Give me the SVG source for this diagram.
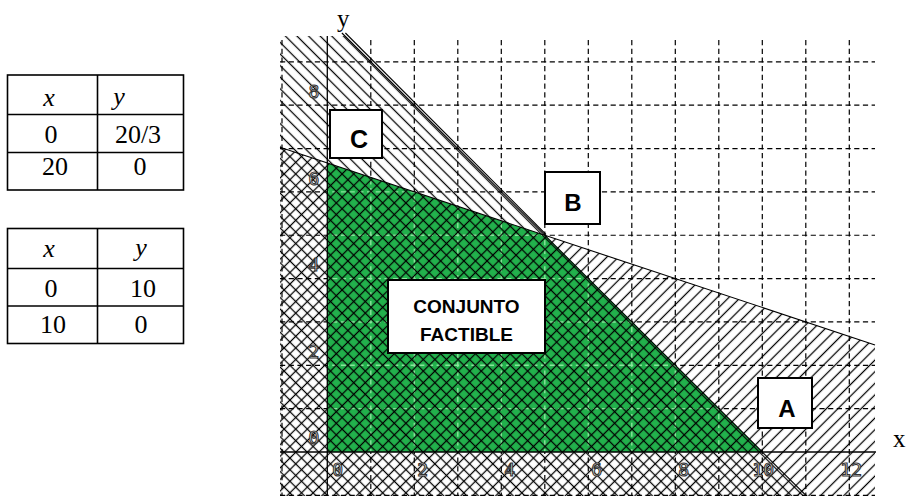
<svg xmlns="http://www.w3.org/2000/svg" width="908" height="496" viewBox="0 0 908 496">
<style>
.tb{fill:none;stroke:#000;stroke-width:1.6}
.tt{font-family:"Liberation Serif",serif;font-size:26px;fill:#000;text-anchor:middle}
.it{font-style:italic}
.grid{stroke:#000;stroke-width:1.2;stroke-dasharray:5.2 3.5;fill:none}
.ggrid{stroke:#8be39c;stroke-width:1.4;stroke-dasharray:5.2 3.5;fill:none}
.cl{stroke:#000;stroke-width:1.1;fill:none}
.ax{stroke:#000;stroke-width:1.3}
.tick{font-family:"DejaVu Sans Mono",monospace;font-size:18px;fill:#fff;stroke:#333;stroke-width:1.1}
.box{fill:#fff;stroke:#000;stroke-width:2}
.bl{font-family:"Liberation Sans",Arial,sans-serif;font-weight:bold;fill:#000;text-anchor:middle}
.axl{font-family:"Liberation Serif",serif;font-size:25px;fill:#000}
</style>
<defs>
<pattern id="hF" patternUnits="userSpaceOnUse" width="8.2" height="8.2" patternTransform="rotate(45)">
<line x1="4.1" y1="-1" x2="4.1" y2="9.2" stroke="#000" stroke-width="1.25"/>
</pattern>
<pattern id="hB" patternUnits="userSpaceOnUse" width="8.2" height="8.2" patternTransform="rotate(-45)">
<line x1="4.1" y1="-1" x2="4.1" y2="9.2" stroke="#000" stroke-width="1.25"/>
</pattern>
<clipPath id="gclip"><polygon points="327.3,452 327.3,163 544.8,235.25 762.3,452"/></clipPath>
</defs>
<rect width="908" height="496" fill="#fff"/>

<g id="table1">
<rect class="tb" x="7.5" y="75" width="176" height="115"/>
<line class="tb" x1="97.5" y1="75" x2="97.5" y2="190"/>
<line class="tb" x1="7.5" y1="114.5" x2="183.5" y2="114.5"/>
<line class="tb" x1="7.5" y1="152.5" x2="183.5" y2="152.5"/>
<text class="tt it" x="49" y="106">x</text>
<text class="tt it" x="119" y="105">y</text>
<text class="tt" x="51" y="143">0</text>
<text class="tt" x="138" y="143">20/3</text>
<text class="tt" x="55" y="175">20</text>
<text class="tt" x="140" y="175">0</text>
</g>

<g id="table2">
<rect class="tb" x="7.5" y="228.5" width="176" height="115"/>
<line class="tb" x1="97.5" y1="228.5" x2="97.5" y2="343.5"/>
<line class="tb" x1="7.5" y1="268.5" x2="183.5" y2="268.5"/>
<line class="tb" x1="7.5" y1="306" x2="183.5" y2="306"/>
<text class="tt it" x="49" y="257">x</text>
<text class="tt it" x="141" y="256">y</text>
<text class="tt" x="51" y="297">0</text>
<text class="tt" x="143" y="297">10</text>
<text class="tt" x="53" y="333">10</text>
<text class="tt" x="141" y="333">0</text>
</g>

<g id="grid">
<path class="grid" d="M282,40V496 M370.8,40V496 M414.3,40V496 M457.8,40V496 M501.3,40V496 M544.8,40V496 M588.3,40V496 M631.8,40V496 M675.3,40V496 M718.8,40V496 M762.3,40V496 M805.8,40V496 M849.3,40V496"/>
<path class="grid" d="M280,61.85H875 M280,105.2H875 M280,148.55H875 M280,191.9H875 M280,235.25H875 M280,278.6H875 M280,321.95H875 M280,365.3H875 M280,408.65H875 M280,495.35H875"/>
</g>

<g id="feasible">
<polygon points="327.3,452 327.3,163 544.8,235.25 762.3,452" fill="#22b14c"/>
<g clip-path="url(#gclip)">
<path class="ggrid" d="M370.8,40V496 M414.3,40V496 M457.8,40V496 M501.3,40V496 M544.8,40V496 M588.3,40V496 M631.8,40V496 M675.3,40V496 M718.8,40V496"/>
<path class="ggrid" d="M280,191.9H875 M280,235.25H875 M280,278.6H875 M280,321.95H875 M280,365.3H875 M280,408.65H875"/>
</g>
</g>

<g id="hatching">
<polygon points="280,36 344.9,36 806.5,496 280,496" fill="url(#hB)"/>
<polygon points="280,147.3 875,344.9 875,496 280,496" fill="url(#hF)"/>
</g>

<g id="connectors">
<line class="cl" x1="280" y1="147.3" x2="875" y2="344.9"/>
<line class="cl" x1="341.9" y1="33" x2="806.5" y2="496"/>
<line class="cl" x1="345.4" y1="33" x2="546" y2="234.5"/>
</g>

<g id="axes">
<line class="ax" x1="327.3" y1="36" x2="327.3" y2="496"/>
<line class="ax" x1="280" y1="452" x2="876" y2="452"/>
<text class="axl" x="337" y="27">y</text>
<text class="axl" x="893" y="447">x</text>
</g>

<g id="ticks" class="tick">
<text x="314" y="444" text-anchor="middle">0</text>
<text x="314" y="358" text-anchor="middle">2</text>
<text x="314" y="271" text-anchor="middle">4</text>
<text x="314" y="185" text-anchor="middle">6</text>
<text x="314" y="98" text-anchor="middle">8</text>
<text x="343" y="476" text-anchor="end">0</text>
<text x="428" y="476" text-anchor="end">2</text>
<text x="515" y="476" text-anchor="end">4</text>
<text x="602" y="476" text-anchor="end">6</text>
<text x="689" y="476" text-anchor="end">8</text>
<text x="774" y="476" text-anchor="end">10</text>
<text x="862" y="476" text-anchor="end">12</text>
</g>

<g id="nodeC">
<rect class="box" x="330" y="110" width="52" height="48"/>
<text class="bl" x="359" y="148" font-size="25">C</text>
</g>
<g id="nodeB">
<rect class="box" x="545" y="172" width="55" height="52"/>
<text class="bl" x="573" y="211" font-size="24">B</text>
</g>
<g id="nodeA">
<rect class="box" x="758" y="378" width="54" height="50"/>
<text class="bl" x="787" y="417" font-size="24">A</text>
</g>
<g id="nodeConjunto">
<rect class="box" x="388" y="280" width="157" height="73"/>
<text class="bl" x="466.5" y="313" font-size="19">CONJUNTO</text>
<text class="bl" x="466.5" y="341" font-size="19">FACTIBLE</text>
</g>
</svg>
